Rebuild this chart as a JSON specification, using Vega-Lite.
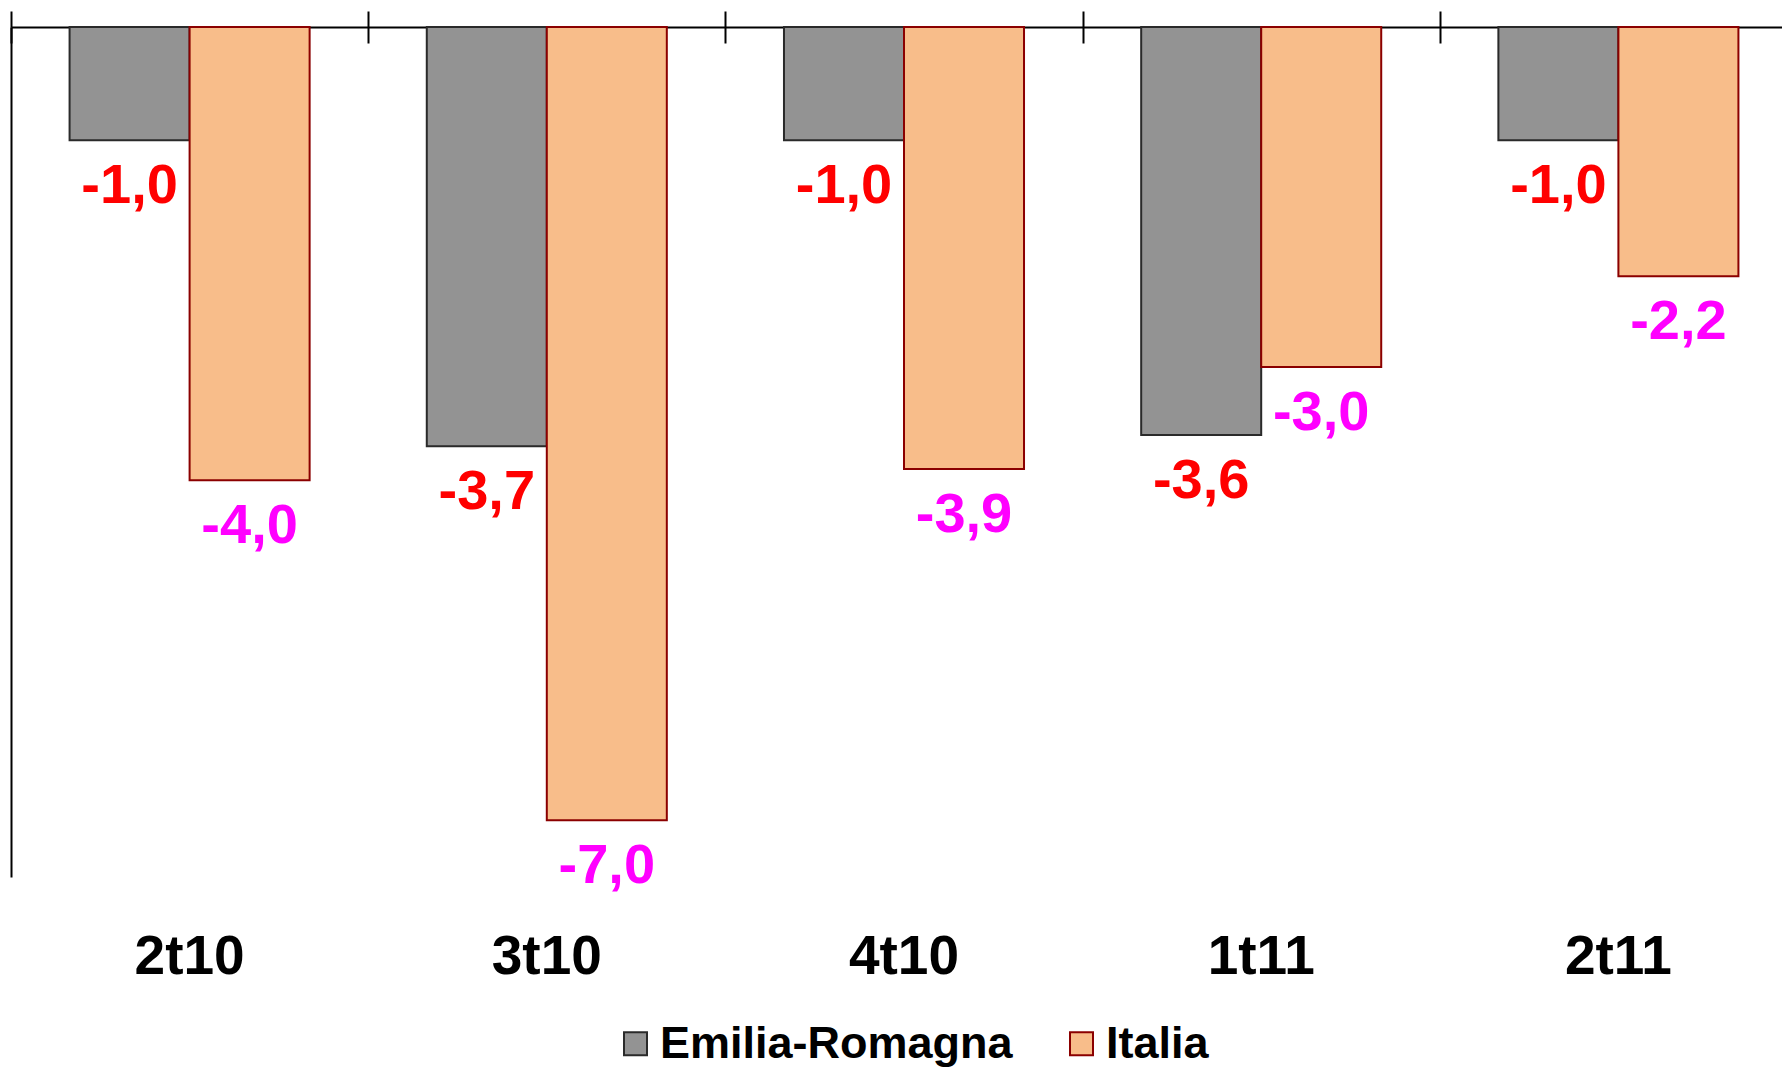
{
  "$schema": "https://vega.github.io/schema/vega-lite/v6.json",
  "width": 1771,
  "height": 850,
  "autosize": "none",
  "padding": {"left": 11, "top": 27, "right": 0, "bottom": 190},
  "background": "white",
  "config": {
    "font": "Liberation Sans",
    "view": {"stroke": null},
    "locale": {"number": {"decimal": ",", "thousands": ".", "grouping": [3], "currency": ["€", ""], "minus": "-"}},
    "axis": {"grid": false},
    "axisY": {"labels": false, "ticks": false, "domainColor": "black", "domainWidth": 2, "grid": false}
  },
  "data": {
    "values": [
      {"quarter": "2t10", "series": "Emilia-Romagna", "value": -1.0},
      {"quarter": "2t10", "series": "Italia", "value": -4.0},
      {"quarter": "3t10", "series": "Emilia-Romagna", "value": -3.7},
      {"quarter": "3t10", "series": "Italia", "value": -7.0},
      {"quarter": "4t10", "series": "Emilia-Romagna", "value": -1.0},
      {"quarter": "4t10", "series": "Italia", "value": -3.9},
      {"quarter": "1t11", "series": "Emilia-Romagna", "value": -3.6},
      {"quarter": "1t11", "series": "Italia", "value": -3.0},
      {"quarter": "2t11", "series": "Emilia-Romagna", "value": -1.0},
      {"quarter": "2t11", "series": "Italia", "value": -2.2}
    ]
  },
  "resolve": {"axis": {"x": "independent"}},
  "layer": [
    {
      "mark": {"type": "bar", "strokeWidth": 2},
      "encoding": {
        "x": {
          "field": "quarter", "type": "nominal", "sort": null,
          "scale": {"range": [0, 1786], "paddingInner": 0.328, "paddingOuter": 0.164},
          "axis": {"orient": "bottom", "title": null, "domain": false, "ticks": false, "labelAngle": 0, "labelFontSize": 55, "labelFontWeight": "bold", "labelColor": "black", "labelPadding": 53}
        },
        "xOffset": {"field": "series", "type": "nominal", "sort": null, "scale": {"domain": ["Emilia-Romagna", "Italia"], "padding": 0}},
        "y": {"field": "value", "type": "quantitative", "title": null, "scale": {"domain": [-7.5, 0], "nice": false, "zero": true}},
        "color": {
          "field": "series", "type": "nominal",
          "scale": {"domain": ["Emilia-Romagna", "Italia"], "range": ["#939393", "#f8bd8a"]},
          "legend": {"orient": "none", "legendX": 602, "legendY": 994, "direction": "horizontal", "title": null, "symbolType": "square", "symbolSize": 529, "symbolStrokeWidth": 2, "labelFontSize": 45, "labelFontWeight": "bold", "labelColor": "black", "labelOffset": 2, "labelLimit": 0, "columnPadding": 46, "padding": 0}
        },
        "stroke": {
          "field": "series", "type": "nominal",
          "scale": {"domain": ["Emilia-Romagna", "Italia"], "range": ["#2a2a2a", "#8b0000"]},
          "legend": {"orient": "none", "legendX": 602, "legendY": 994, "direction": "horizontal", "title": null, "symbolType": "square", "symbolSize": 529, "symbolStrokeWidth": 2, "labelFontSize": 45, "labelFontWeight": "bold", "labelColor": "black", "labelOffset": 2, "labelLimit": 0, "columnPadding": 46, "padding": 0}
        }
      }
    },
    {
      "transform": [{"filter": "datum.series === 'Emilia-Romagna'"}],
      "mark": {"type": "text", "dy": 46, "fontSize": 56, "fontWeight": "bold", "color": "#ff0000", "baseline": "middle", "align": "center"},
      "encoding": {
        "x": {
          "field": "quarter", "type": "nominal", "sort": null,
          "axis": {"orient": "top", "title": null, "labels": false, "tickOffset": -178.6, "tickSize": 16, "tickColor": "black", "tickWidth": 2, "domainColor": "black", "domainWidth": 2}
        },
        "xOffset": {"field": "series", "type": "nominal", "sort": null},
        "y": {"field": "value", "type": "quantitative", "title": null},
        "text": {"field": "value", "type": "quantitative", "format": ".1f"}
      }
    },
    {
      "transform": [{"filter": "datum.series === 'Italia'"}],
      "mark": {"type": "text", "dy": 46, "fontSize": 56, "fontWeight": "bold", "color": "#ff00ff", "baseline": "middle", "align": "center"},
      "encoding": {
        "x": {
          "field": "quarter", "type": "nominal", "sort": null,
          "axis": {"orient": "top", "title": null, "labels": false, "domain": false, "tickOffset": -178.6, "tickSize": -16, "tickColor": "black", "tickWidth": 2}
        },
        "xOffset": {"field": "series", "type": "nominal", "sort": null},
        "y": {"field": "value", "type": "quantitative", "title": null},
        "text": {"field": "value", "type": "quantitative", "format": ".1f"}
      }
    }
  ]
}
